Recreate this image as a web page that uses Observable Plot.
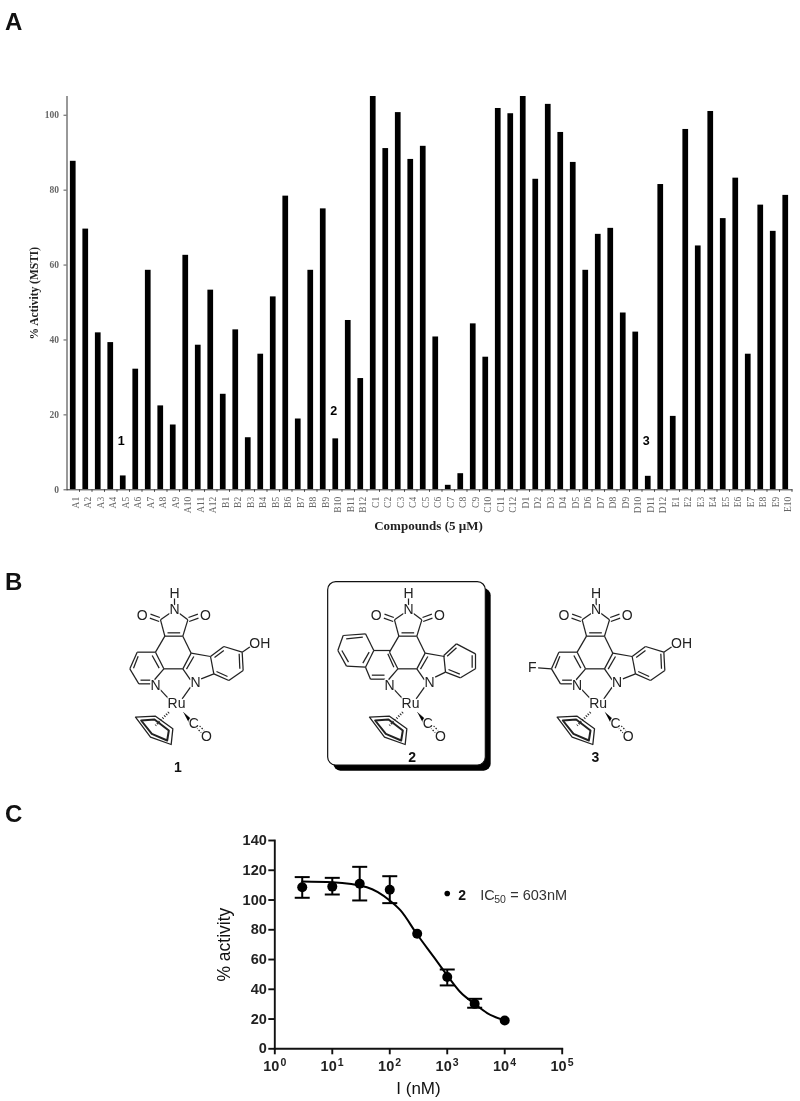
<!DOCTYPE html>
<html>
<head>
<meta charset="utf-8">
<script src="https://cdn.jsdelivr.net/npm/d3@7"></script>
<script src="https://cdn.jsdelivr.net/npm/@observablehq/plot@0.6"></script>
<style>
html,body{margin:0;padding:0;background:#fff;}
#page{position:relative;width:800px;height:1101px;overflow:hidden;font-family:"Liberation Sans",Arial,sans-serif;filter:blur(0.3px);}
#page svg{position:absolute;left:0;overflow:visible;}
.panel{position:absolute;left:5px;font-weight:bold;font-size:24px;line-height:24px;color:#111;}
</style>
</head>
<body>
<div id="page">
<div class="panel" style="top:10px">A</div>
<div class="panel" style="top:570px">B</div>
<div class="panel" style="top:802px">C</div>
</div>
<script>
// ---------- Panel A data ----------
const compounds = [
 "A1","A2","A3","A4","A5","A6","A7","A8","A9","A10","A11","A12",
 "B1","B2","B3","B4","B5","B6","B7","B8","B9","B10","B11","B12",
 "C1","C2","C3","C4","C5","C6","C7","C8","C9","C10","C11","C12",
 "D1","D2","D3","D4","D5","D6","D7","D8","D9","D10","D11","D12",
 "E1","E2","E3","E4","E5","E6","E7","E8","E9","E10"];
const activity = [
 87.7,69.6,41.9,39.3,3.7,32.2,58.6,22.4,17.3,62.6,38.6,53.3,
 25.5,42.7,13.9,36.2,51.5,78.4,18.9,58.6,75,13.6,45.2,29.7,
 105,91.1,100.7,88.2,91.7,40.8,1.2,4.3,44.3,35.4,101.8,100.4,
 105,82.9,102.9,95.4,87.4,58.6,68.2,69.8,47.2,42.1,3.6,81.5,
 19.6,96.2,65.1,101,72.4,83.2,36.2,76,69,78.6];
const activityTicks = [0,20,40,60,80,100];
const hits = [{c:"A5",y:12.9,t:"1"},{c:"B10",y:21,t:"2"},{c:"D11",y:12.9,t:"3"}];

// ---------- Panel C data ----------
const doses = [3,10,30,100,300,1000,3000,10000];
const doseMean = [108.6,109,110.9,106.9,77.3,48.2,30.2,19];
const doseLow = [101.5,103.7,99.7,97.9,null,42.6,27.6,null];
const doseHigh = [115.4,114.9,122.3,116,null,53.3,33.6,null];
const fitDose = [3,10,40,100,154,300,586,1000,1700,3000,4950,10000];
const fitActivity = [112.5,112,108.6,99.7,93,76.8,61.6,49.3,38,30.2,24,19];
const decades = [1,10,100,1000,10000,100000];
const percentTicks = [0,20,40,60,80,100,120,140];

// ---------- Panel B structure drawing (molecule units) ----------
const imideBonds = [
 [208,128,180,148],[236,128,262,148],[180,148,193,197],[262,148,247,197],
 [193,197,247,197],[201,187,239,187],
 [178,141,150,131],[176,153,148,143],[264,141,292,131],[266,153,294,143],
 [222,104,222,84]];
const centralBonds = [
 [193,197,165,245],[247,197,272,248],[165,245,190,295],[190,295,247,295],
 [247,295,272,248],[280,258,258,296],[272,248,330,258],[270,328,247,295]];
const metalBonds = [[177,355,205,385],[270,350,245,385]];
const pyridineBonds = [
 [165,245,110,245],[110,245,88,295],[88,295,115,340],[115,340,150,340],[160,330,190,295],
 [155,255,176,293],[113,257,99,293],[120,329,150,329]];
const hydroxyIndoleBonds = [
 [330,258,340,310],[340,310,302,325],[330,258,370,228],[370,228,425,245],[425,245,428,300],
 [428,300,385,330],[385,330,340,310],[370,240,342,261],[416,250,418,295],[381,318,348,303],
 [425,245,450,228]];
const plainIndoleBonds = [
 [328,255,333,305],[333,305,302,320],[328,255,366,220],[366,220,423,250],[423,295,423,250],
 [423,295,378,322],[378,322,333,305],[366,232,338,257],[413,254,413,292],[376,311,342,297]];
const isoquinolineBonds = [
 [168,240,118,240],[118,240,93,290],[93,290,108,326],[108,326,152,326],[160,330,190,295],
 [160,250,178,290],[93,290,36,287],[36,287,10,240],[10,240,26,195],[26,195,93,190],[93,190,118,240],
 [112,314,150,314],[42,275,22,240],[35,205,85,200],[104,245,85,278]];
const fluoroBond = [[48,292,88,295]];
const cpOuter = [[105,440],[165,437],[217,475],[212,522],[150,500],[105,440]];
const cpInner = [[122,450],[162,447],[205,480],[200,510],[154,490],[122,450]];
const hashBond = [[205,425,165,465]];
const wedge = [[249,426],[274,448],[265,457]];
const carbonylDots = [[288,472,304,488],[297,466,313,482]];
const atomLabels = [["N",222,118],["O",125,135],["O",315,135],["H",222,68],["N",165,345],["N",285,335],["Ru",228,400],["C",280,460],["O",318,498]];
const moleculeShift = {one:0, two:702, three:1265};
const numberLabels = [["1",232,590],["2",935,560],["3",1485,560]];

const serif = '"Liberation Serif","Times New Roman",serif';
const sans = '"Liberation Sans",Arial,sans-serif';
const page = document.getElementById("page");
function place(svg, top){ svg.style.top = top + "px"; page.appendChild(svg); }

// ---------- Panel A ----------
const bars = compounds.map((c,i)=>({c, v:activity[i]}));
const plotA = Plot.plot({
  width:800, height:560,
  marginLeft:66.5, marginRight:8.5, marginTop:96, marginBottom:70.7,
  style:{background:"transparent", fontFamily:serif},
  x:{type:"band", domain:compounds, padding:0, round:false},
  y:{domain:[0,105]},
  marks:[
    Plot.barY(bars,{x:"c", y:"v", fill:"#000", insetLeft:3.4, insetRight:3.4, clip:true}),
    Plot.frame({anchor:"left", stroke:"#333", strokeWidth:1}),
    Plot.frame({anchor:"bottom", stroke:"#333", strokeWidth:1}),
    Plot.axisX({ticks:compounds, tickSize:2.5, text:null, dx:6.25, stroke:"#444", label:null}),
    Plot.axisX({ticks:compounds, tickSize:0, tickPadding:7, tickRotate:-90, dx:2.5, fontSize:9.5, fill:"#666", label:null}),
    Plot.axisY({ticks:activityTicks, tickSize:3, tickPadding:5, fontSize:9.5, fontWeight:"bold", fill:"#666", stroke:"#555", label:null}),
    Plot.text(["% Activity (MSTI)"],{frameAnchor:"left", textAnchor:"middle", rotate:-90, dx:-33, fontSize:11.5, fontWeight:"bold", fill:"#222"}),
    Plot.text(["Compounds (5 µM)"],{frameAnchor:"bottom", dy:40, fontSize:13, fontWeight:"bold", fill:"#222", dx:-1}),
    Plot.text(hits,{x:"c", y:"y", text:"t", dx:-2, fontSize:12.5, fontWeight:"bold", fontFamily:sans, fill:"#000"})
  ]
});
place(plotA,0);

// ---------- Panel B ----------
const shifted = (list,dx)=>list.map(([x1,y1,x2,y2])=>({x1:x1+dx,y1,x2:x2+dx,y2}));
const ringPath = (pts,dx,id)=>pts.map(([x,y])=>({x:x+dx,y,id}));
const shifts = Object.values(moleculeShift);
let bonds = [];
for (const dx of shifts) bonds = bonds.concat(shifted(imideBonds,dx),shifted(centralBonds,dx),shifted(metalBonds,dx));
bonds = bonds.concat(
  shifted(pyridineBonds,moleculeShift.one), shifted(hydroxyIndoleBonds,moleculeShift.one),
  shifted(isoquinolineBonds,moleculeShift.two), shifted(plainIndoleBonds,moleculeShift.two),
  shifted(pyridineBonds,moleculeShift.three), shifted(hydroxyIndoleBonds,moleculeShift.three),
  shifted(fluoroBond,moleculeShift.three));
const dotted = shifts.flatMap(dx=>shifted(carbonylDots,dx));
const hashes = shifts.flatMap(dx=>shifted(hashBond,dx));
const outers = shifts.flatMap((dx,i)=>ringPath(cpOuter,dx,"o"+i));
const inners = shifts.flatMap((dx,i)=>ringPath(cpInner,dx,"i"+i));
const wedges = shifts.flatMap((dx,i)=>ringPath(wedge,dx,"w"+i));
let atoms = shifts.flatMap(dx=>atomLabels.map(([t,x,y])=>({t,x:x+dx,y})));
atoms = atoms.concat(
  {t:"OH",x:478+moleculeShift.one,y:218},
  {t:"OH",x:478+moleculeShift.three,y:218},
  {t:"F",x:30+moleculeShift.three,y:290});
const box = {x1:683,x2:1156,y1:35,y2:585};
const boxShadow = {x1:700,x2:1172,y1:55,y2:602};
const plotB = Plot.plot({
  width:800, height:240, margin:0,
  style:{background:"transparent", fontFamily:sans},
  x:{domain:[-300,2100], axis:null},
  y:{domain:[0,720], reverse:true, axis:null},
  marks:[
    Plot.rect([boxShadow],{x1:"x1",x2:"x2",y1:"y1",y2:"y2",fill:"#000",rx:7}),
    Plot.rect([box],{x1:"x1",x2:"x2",y1:"y1",y2:"y2",fill:"#fff",stroke:"#111",strokeWidth:1.2,rx:8}),
    Plot.link(bonds,{x1:"x1",y1:"y1",x2:"x2",y2:"y2",stroke:"#222",strokeWidth:1.25}),
    Plot.link(dotted,{x1:"x1",y1:"y1",x2:"x2",y2:"y2",stroke:"#222",strokeWidth:1.2,strokeDasharray:"1.5,1.5"}),
    Plot.link(hashes,{x1:"x1",y1:"y1",x2:"x2",y2:"y2",stroke:"#222",strokeWidth:2.2,strokeDasharray:"1,1.6"}),
    Plot.line(outers,{x:"x",y:"y",z:"id",stroke:"#222",strokeWidth:1.3}),
    Plot.line(inners,{x:"x",y:"y",z:"id",stroke:"#222",strokeWidth:2}),
    Plot.line(wedges,{x:"x",y:"y",z:"id",fill:"#000",stroke:"#000",strokeWidth:0.5}),
    Plot.text(atoms,{x:"x",y:"y",text:"t",fontSize:14,fill:"#222",stroke:"#fff",strokeWidth:2.5}),
    Plot.text(numberLabels.map(([t,x,y])=>({t,x,y})),{x:"x",y:"y",text:"t",fontSize:14,fontWeight:"bold",fill:"#111"})
  ]
});
place(plotB,570);

// ---------- Panel C ----------
const points = doses.map((x,i)=>({x,y:doseMean[i],lo:doseLow[i],hi:doseHigh[i]}));
const errs = points.filter(d=>d.lo!=null);
const fit = fitDose.map((x,i)=>({x,y:fitActivity[i]}));
const cap = {draw(c){ c.moveTo(-7.5,0); c.lineTo(7.5,0); }};
const legendKey = [{x:1000,y:104.4}];
const plotC = Plot.plot({
  width:800, height:301,
  marginLeft:274.3, marginRight:238.3, marginTop:40, marginBottom:52.7,
  style:{background:"transparent", fontFamily:sans},
  x:{type:"log", domain:[1,100000]},
  y:{domain:[0,140]},
  marks:[
    Plot.frame({anchor:"left", stroke:"#111", strokeWidth:1.9}),
    Plot.frame({anchor:"bottom", stroke:"#111", strokeWidth:1.9}),
    Plot.axisY({ticks:percentTicks, tickSize:6, tickPadding:2, fontSize:14.5, fontWeight:"bold", fill:"#222", strokeWidth:1.9, stroke:"#111", label:null}),
    Plot.axisX({ticks:decades, tickSize:6, text:null, strokeWidth:1.9, stroke:"#111", label:null}),
    Plot.axisX({ticks:decades, tickSize:0, tickPadding:12, dx:-3.6, fontSize:14.5, fontWeight:"bold", fill:"#222", tickFormat:()=>"10", label:null}),
    Plot.axisX({ticks:decades, tickSize:0, tickPadding:9.5, dx:8.5, fontSize:10.5, fontWeight:"bold", fill:"#222", tickFormat:d=>String(Math.round(Math.log10(d))), label:null}),
    Plot.line(fit,{x:"x",y:"y",stroke:"#000",strokeWidth:2,curve:"monotone-x"}),
    Plot.ruleX(errs,{x:"x",y1:"lo",y2:"hi",stroke:"#000",strokeWidth:2}),
    Plot.dot(errs,{x:"x",y:"lo",symbol:cap,stroke:"#000",strokeWidth:2,r:7}),
    Plot.dot(errs,{x:"x",y:"hi",symbol:cap,stroke:"#000",strokeWidth:2,r:7}),
    Plot.dot(points,{x:"x",y:"y",r:5,fill:"#000"}),
    Plot.dot(legendKey,{x:"x",y:"y",r:2.8,fill:"#000"}),
    Plot.text(legendKey,{x:"x",y:"y",text:()=>"2",dx:11,dy:2,textAnchor:"start",fontSize:14,fontWeight:"bold",fill:"#111"}),
    Plot.text(legendKey,{x:"x",y:"y",text:()=>"IC",dx:33,dy:2,textAnchor:"start",fontSize:14.5,fill:"#333"}),
    Plot.text(legendKey,{x:"x",y:"y",text:()=>"50",dx:47,dy:6,textAnchor:"start",fontSize:10.5,fill:"#333"}),
    Plot.text(legendKey,{x:"x",y:"y",text:()=>"= 603nM",dx:63,dy:2,textAnchor:"start",fontSize:14.5,fill:"#333"}),
    Plot.text(["% activity"],{frameAnchor:"left",textAnchor:"middle",rotate:-90,dx:-50,fontSize:17.5,fill:"#111"}),
    Plot.text(["I (nM)"],{frameAnchor:"bottom",dy:45,fontSize:17,fill:"#111"})
  ]
});
place(plotC,800);
</script>
</body>
</html>
